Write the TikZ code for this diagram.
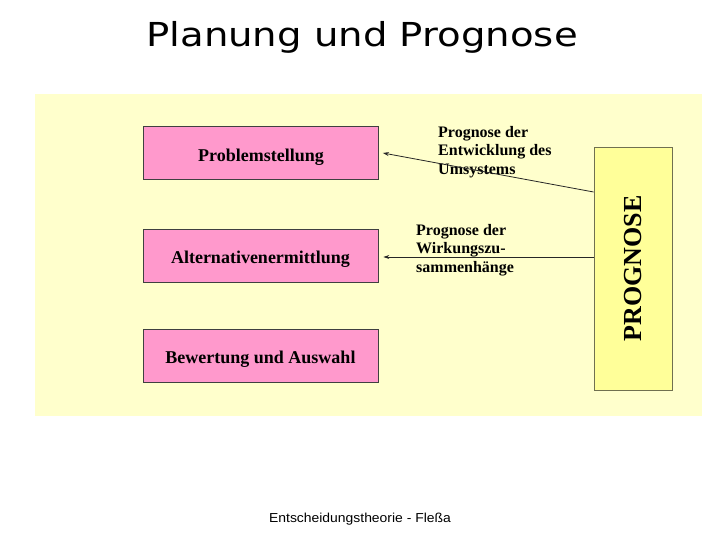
\documentclass[tikz,border=0pt]{standalone}
\usepackage{fontspec}
\setmainfont{Liberation Serif}
\newfontfamily\titlefont{DejaVu Sans}
\newfontfamily\footfont{Liberation Sans}
\usetikzlibrary{calc,arrows.meta}
\definecolor{bgyellow}{HTML}{FFFFCC}
\definecolor{progyellow}{HTML}{FFFF99}
\definecolor{boxpink}{HTML}{FF99CC}
\definecolor{boxline}{HTML}{404040}
\definecolor{progline}{HTML}{707050}
\tikzset{
  pbox/.style={draw=boxline, line width=0.8pt, fill=boxpink, minimum width=235pt, minimum height=53pt, inner sep=0pt, text height=16.8pt, text depth=0pt, font=\bfseries\fontsize{18}{20}\selectfont},
  progbox/.style={draw=progline, line width=0.8pt, fill=progyellow, minimum width=78.5pt, minimum height=243pt, inner sep=0pt},
  lbl/.style={align=left, inner sep=0pt, anchor=west, font=\bfseries\fontsize{16}{18.5}\selectfont},
  arr/.style={draw=black!85, line width=0.8pt, -{Stealth[length=6pt,width=4pt]}}
}
\begin{document}
\begin{tikzpicture}[x=1pt,y=-1pt]
\useasboundingbox (0,0) rectangle (720,540);
\fill[bgyellow] (35,94) rectangle (702,416);
\node[anchor=base, font=\titlefont\fontsize{33}{36}\selectfont, xscale=1.17] (title) at (362,47) {Planung und Prognose};
\node[pbox] (p1) at (261,153.3) {Problemstellung};
\node[pbox] (p2) at (260.5,255.5) {Alternativenermittlung};
\node[pbox] (p3) at (260.5,355.5) {Bewertung und Auswahl};
\node[progbox] (prog) at (633.25,268.5) {};
\node[rotate=90, font=\bfseries\fontsize{26}{28}\selectfont, inner sep=0pt] (progtxt) at (prog.center) {PROGNOSE};
\node[lbl] (l1) at (438,152) {Prognose der\\Entwicklung des\\Umsystems};
\node[lbl] (l2) at (416,250) {Prognose der\\Wirkungszu-\\sammenhänge};
\coordinate (s1) at (prog.west |- 0,192);
\coordinate (s2) at (prog.west |- 0,257);
\coordinate (t1) at ($(p1.east |- 0,153)+(4,0)$);
\coordinate (t2) at ($(p2.east |- 0,257)+(5,0)$);
\draw[arr] (s1) -- (t1);
\draw[arr] (s2) -- (t2);
\node[anchor=base, font=\footfont\fontsize{13}{15}\selectfont, xscale=1.07] (foot) at (360,522) {Entscheidungstheorie - Fleßa};
\end{tikzpicture}
\end{document}
